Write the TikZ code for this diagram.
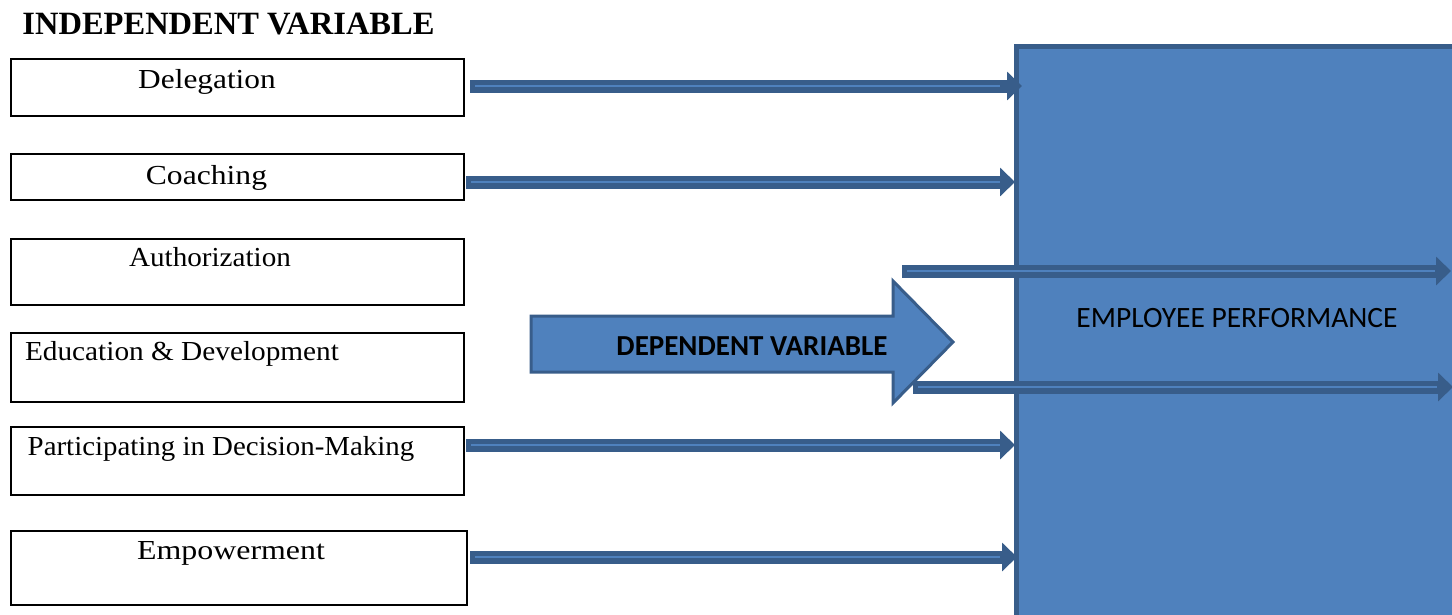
\documentclass[tikz,border=0pt]{standalone}
\usepackage{fontspec}
\setmainfont{Liberation Serif}
\newfontfamily\calfont{Carlito}
\usetikzlibrary{arrows.meta}
\definecolor{fillblue}{HTML}{4F81BD}
\definecolor{edgeblue}{HTML}{385D8A}
\newcommand{\sx}[2]{\scalebox{#1}[1]{#2}}
\begin{document}
\begin{tikzpicture}[x=1pt,y=-1pt,
  ibox/.style={draw=black, line width=2pt, inner sep=0pt, outer sep=0pt},
  itext/.style={font=\fontsize{27.5}{30}\selectfont, anchor=base, inner sep=0pt},
  tharrow/.style={draw=edgeblue, line width=13pt,
    -{Triangle[width=28pt,length=15pt]},
    postaction={draw=fillblue, line width=2.5pt, -, shorten >=16pt, shorten <=5pt}},
  bigbox/.style={draw=edgeblue, fill=fillblue, line width=5pt, inner sep=0pt, outer sep=0pt}]
\useasboundingbox (0,0) rectangle (1452,614);
\clip (0,0) rectangle (1452,614);
\fill[white] (0,0) rectangle (1452,614);

\node[font=\bfseries\fontsize{32.5}{34}\selectfont, anchor=base, inner sep=0pt] (title) at (228.5,34) {INDEPENDENT VARIABLE};

\node[ibox, minimum width=453, minimum height=57] (b1) at (237.5,87.5) {};
\node[ibox, minimum width=453, minimum height=46] (b2) at (237.5,177) {};
\node[ibox, minimum width=453, minimum height=66] (b3) at (237.5,272) {};
\node[ibox, minimum width=453, minimum height=69] (b4) at (237.5,367.5) {};
\node[ibox, minimum width=453, minimum height=68] (b5) at (237.5,461) {};
\node[ibox, minimum width=456, minimum height=74] (b6) at (239,568) {};

\node[itext] (t1) at (207,88) {\sx{1.14}{Delegation}};
\node[itext] (t2) at (206.5,184) {\sx{1.15}{Coaching}};
\node[itext] (t3) at (210,266) {\sx{1.06}{Authorization}};
\node[itext] (t4) at (182,360) {\sx{1.065}{Education \& Development}};
\node[itext] (t5) at (221,455) {\sx{1.05}{Participating in Decision-Making}};
\node[itext] (t6) at (231,559) {\sx{1.16}{Empowerment}};

\node[bigbox, minimum width=480, minimum height=620, anchor=north west] (emp) at (1016,46) {};
\node[font=\calfont\fontsize{29.5}{31}\selectfont, anchor=base, inner sep=0pt] (emptext) at (1237,327) {EMPLOYEE PERFORMANCE};

\draw[fill=fillblue, draw=edgeblue, line width=3pt, line join=miter]
  (531,316) -- (893,316) -- (893,281) -- (953,342) -- (893,403) -- (893,372) -- (531,372) -- cycle;
\node[font=\calfont\bfseries\fontsize{29}{30}\selectfont, anchor=base, inner sep=0pt] (dv) at (752,355) {DEPENDENT VARIABLE};

\draw[tharrow, shorten >=-6pt] ([xshift=6pt,yshift=1.5pt]b1.east) coordinate (a1s) -- (emp.west |- a1s);
\draw[tharrow, shorten >=1pt] ([xshift=2pt,yshift=-5pt]b2.east) coordinate (a2s) -- (emp.west |- a2s);
\draw[tharrow, shorten >=1pt] ([xshift=2pt,yshift=16pt]b5.east) coordinate (a5s) -- (emp.west |- a5s);
\draw[tharrow, shorten >=-1pt] ([xshift=3pt,yshift=11pt]b6.east) coordinate (a6s) -- (emp.west |- a6s);

\coordinate (a3s) at (902,271);
\coordinate (a3e) at (1451,271);
\coordinate (a4s) at (913,387);
\coordinate (a4e) at (1453,387);
\draw[tharrow] (a3s) -- (a3e);
\draw[tharrow] (a4s) -- (a4e);
\end{tikzpicture}
\end{document}
